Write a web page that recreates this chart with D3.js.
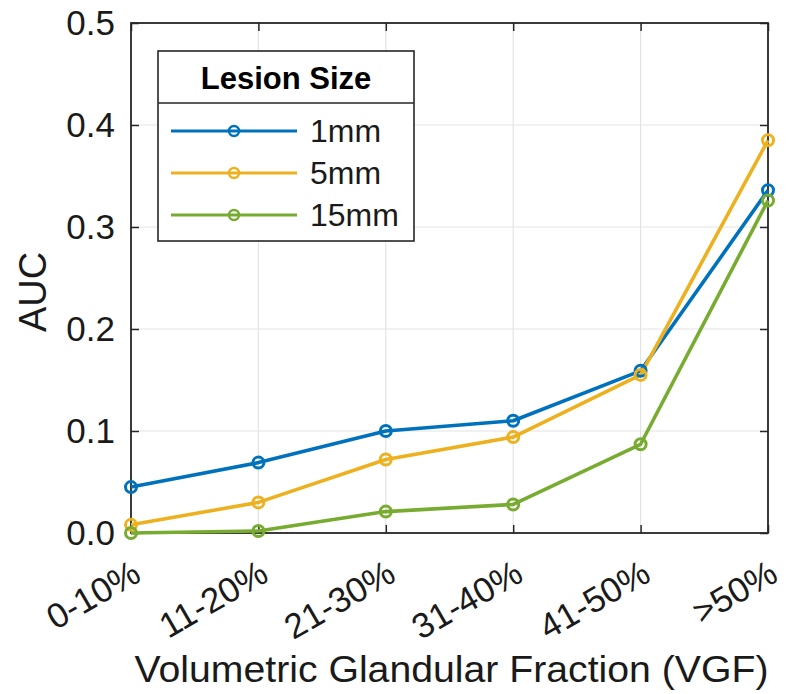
<!DOCTYPE html>
<html>
<head>
<meta charset="utf-8">
<script src="https://cdn.jsdelivr.net/npm/d3@7"></script>
<style>
  html, body { margin: 0; padding: 0; background: #fff; }
  svg { display: block; font-family: "Liberation Sans", Arial, Helvetica, sans-serif; }
</style>
</head>
<body>
<svg id="chart" width="788" height="694"></svg>
<script>
// VGF bins on the x axis
const categories = ["0-10%", "11-20%", "21-30%", "31-40%", "41-50%", ">50%"];

// AUC per lesion size
const auc1mm  = [0.045, 0.069, 0.100, 0.110, 0.159, 0.336];
const auc5mm  = [0.008, 0.030, 0.072, 0.094, 0.155, 0.385];
const auc15mm = [0.000, 0.002, 0.021, 0.028, 0.087, 0.326];

const seriesNames = ["1mm", "5mm", "15mm"];
const seriesColors = ["#0072BD", "#EDB120", "#77AC30"];
const yTicks = [0.0, 0.1, 0.2, 0.3, 0.4, 0.5];

const series = [auc1mm, auc5mm, auc15mm].map((vals, i) => ({
  name: seriesNames[i], color: seriesColors[i], values: vals
}));

const svg = d3.select("#chart");
const margin = { left: 131, right: 20, top: 23, bottom: 161 };
const W = 788, H = 694;
const x0 = margin.left, x1 = W - margin.right;
const y0 = H - margin.bottom, y1 = margin.top;

const x = d3.scalePoint().domain(categories).range([x0, x1]);
const y = d3.scaleLinear().domain([0, 0.5]).range([y0, y1]);

const axisColor = "#262626";
const gridColor = "#e3e3e3";

// grid
const grid = svg.append("g");
grid.selectAll("line.gx").data(categories).join("line")
  .attr("x1", d => x(d)).attr("x2", d => x(d))
  .attr("y1", y0).attr("y2", y1)
  .attr("stroke", gridColor).attr("stroke-width", 1.2);
grid.selectAll("line.gy").data(yTicks).join("line")
  .attr("x1", x0).attr("x2", x1)
  .attr("y1", d => y(d)).attr("y2", d => y(d))
  .attr("stroke", gridColor).attr("stroke-width", 1.2);

// axes with inward ticks on all four sides
const tickLen = 8;
const axLeft = d3.axisLeft(y).tickValues(yTicks).tickFormat(d3.format(".1f")).tickSizeInner(-tickLen).tickSizeOuter(0).tickPadding(16);
const axRight = d3.axisRight(y).tickValues(yTicks).tickFormat("").tickSizeInner(-tickLen).tickSizeOuter(0);
const axBottom = d3.axisBottom(x).tickFormat("").tickSizeInner(-tickLen).tickSizeOuter(0);
const axTop = d3.axisTop(x).tickFormat("").tickSizeInner(-tickLen).tickSizeOuter(0);

function style(g) {
  g.select(".domain").remove();
  g.selectAll(".tick line").attr("stroke", axisColor).attr("stroke-width", 1.5);
  g.selectAll("text").attr("fill", "#1a1a1a");
}
const gL = svg.append("g").attr("transform", `translate(${x0},0)`).call(axLeft).call(style);
gL.selectAll("text").attr("font-size", 35).attr("font-family", "Liberation Sans, Arial, sans-serif");
svg.append("g").attr("transform", `translate(${x1},0)`).call(axRight).call(style);
svg.append("g").attr("transform", `translate(0,${y0})`).call(axBottom).call(style);
svg.append("g").attr("transform", `translate(0,${y1})`).call(axTop).call(style);

// box
svg.append("rect")
  .attr("x", x0).attr("y", y1).attr("width", x1 - x0).attr("height", y0 - y1)
  .attr("fill", "none").attr("stroke", axisColor).attr("stroke-width", 1.8);

// rotated category labels
svg.append("g").selectAll("text").data(categories).join("text")
  .attr("transform", d => `translate(${x(d) + 12},${y0 + 47}) rotate(-30)`)
  .attr("text-anchor", "end")
  .attr("font-size", 35)
  .attr("fill", "#1a1a1a")
  .text(d => d);

// axis titles
svg.append("text")
  .attr("x", (x0 + x1) / 2 + 2).attr("y", 682)
  .attr("text-anchor", "middle")
  .attr("font-size", 36)
  .attr("textLength", 634).attr("lengthAdjust", "spacingAndGlyphs")
  .attr("fill", "#1a1a1a")
  .text("Volumetric Glandular Fraction (VGF)");

svg.append("text")
  .attr("transform", `translate(46,${(y0 + y1) / 2 + 14}) rotate(-90)`)
  .attr("text-anchor", "middle")
  .attr("font-size", 38)
  .attr("fill", "#1a1a1a")
  .text("AUC");

// lines and markers
const line = d3.line().x((d, i) => x(categories[i])).y(d => y(d));
const gS = svg.append("g");
series.forEach(s => {
  gS.append("path").datum(s.values)
    .attr("d", line)
    .attr("fill", "none").attr("stroke", s.color)
    .attr("stroke-width", 3.6).attr("stroke-linejoin", "round");
});
series.forEach(s => {
  gS.append("g").selectAll("circle").data(s.values).join("circle")
    .attr("cx", (d, i) => x(categories[i])).attr("cy", d => y(d))
    .attr("r", 5.5)
    .attr("fill", "none").attr("stroke", s.color).attr("stroke-width", 3);
});

// legend
const lg = svg.append("g");
const lx = 158, ly = 51, lw = 256, lh = 190, sep = 103;
lg.append("rect").attr("x", lx).attr("y", ly).attr("width", lw).attr("height", lh)
  .attr("fill", "#fff").attr("stroke", axisColor).attr("stroke-width", 1.6);
lg.append("line").attr("x1", lx).attr("x2", lx + lw).attr("y1", sep).attr("y2", sep)
  .attr("stroke", axisColor).attr("stroke-width", 1.4);
lg.append("text").attr("x", lx + lw / 2).attr("y", 89)
  .attr("text-anchor", "middle").attr("font-size", 31).attr("font-weight", "bold")
  .attr("fill", "#000").text("Lesion Size");
const rowY = [131, 173, 215];
series.forEach((s, i) => {
  const g = lg.append("g").attr("transform", `translate(0,${rowY[i]})`);
  g.append("line").attr("x1", 171).attr("x2", 297).attr("y1", 0).attr("y2", 0)
    .attr("stroke", s.color).attr("stroke-width", 3);
  g.append("circle").attr("cx", 234).attr("cy", 0).attr("r", 5)
    .attr("fill", "none").attr("stroke", s.color).attr("stroke-width", 2.5);
  g.append("text").attr("x", 310).attr("y", 11)
    .attr("font-size", 32).attr("fill", "#1a1a1a").text(s.name);
});
</script>
</body>
</html>
